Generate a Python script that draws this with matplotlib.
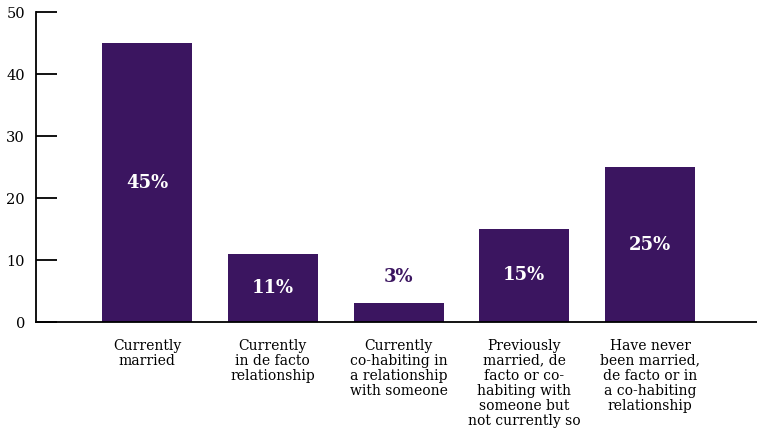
import matplotlib
matplotlib.use("Agg")
import matplotlib.pyplot as plt
import numpy as np

categories = ["Currently\nmarried",
              "Currently\nin de facto\nrelationship",
              "Currently\nco-habiting in\na relationship\nwith someone",
              "Previously\nmarried, de\nfacto or co-\nhabiting with\nsomeone but\nnot currently so",
              "Have never\nbeen married,\nde facto or in\na co-habiting\nrelationship"]
values = [45, 11, 3, 15, 25]
yticks = [0, 10, 20, 30, 40, 50]

purple = "#3b1560"
plt.rcParams['font.family'] = ['DejaVu Serif']

fig = plt.figure(figsize=(7.57, 4.36), dpi=100)
ax = fig.add_axes([36/757, 1 - 322/436, 1 - 36/757, (322 - 12)/436])

x = np.arange(len(values))
ax.bar(x, values, width=0.716, color=purple)

for xi, v in zip(x, values):
    if v < 5:
        ax.text(xi, v + 4.3, f"{v}%", ha="center", va="center",
                color=purple, fontsize=13, fontweight="bold")
    else:
        ax.text(xi, v / 2, f"{v}%", ha="center", va="center",
                color="white", fontsize=13, fontweight="bold")

ax.set_xlim(-0.883, 4.85)
ax.set_ylim(0, 50)
ax.set_yticks(yticks)
ax.tick_params(axis="y", direction="in", length=15, width=1.3, labelsize=10.5, pad=8)
ax.set_xticks(x)
ax.set_xticklabels(categories, fontsize=10, linespacing=1.1)
ax.tick_params(axis="x", length=0, pad=12)
for s in ["top", "right"]:
    ax.spines[s].set_visible(False)
for s in ["left", "bottom"]:
    ax.spines[s].set_linewidth(1.3)

fig.savefig("out.png", dpi=100)
